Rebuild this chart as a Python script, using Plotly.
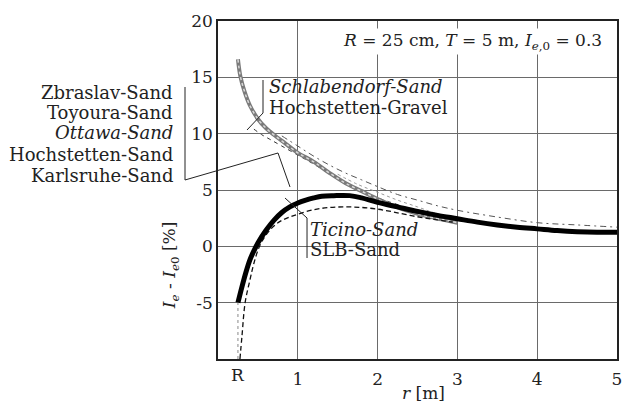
import plotly.graph_objects as go

# ---- data ----
thick_x = [0.25, 0.3, 0.35, 0.4, 0.45, 0.5, 0.6, 0.7, 0.8, 0.9, 1.0, 1.1, 1.2, 1.3, 1.45, 1.65, 1.8, 2.0,
           2.25, 2.5, 2.75, 3.0, 3.25, 3.5, 3.75, 4.0, 4.25, 4.5, 4.75, 5.0]
thick_y = [-5.0, -3.6, -2.3, -1.2, -0.4, 0.3, 1.4, 2.3, 3.0, 3.5, 3.85, 4.1, 4.3, 4.45, 4.5, 4.5, 4.3, 3.9,
           3.5, 3.1, 2.75, 2.45, 2.15, 1.9, 1.7, 1.55, 1.4, 1.3, 1.25, 1.25]

slb_x = [0.275, 0.3, 0.34, 0.4, 0.45, 0.52, 0.6, 0.7, 0.8, 0.9, 1.0, 1.2, 1.4, 1.6, 1.8, 2.0, 2.2, 2.44, 2.7, 2.94]
slb_y = [-10.0, -8.0, -5.0, -3.0, -1.5, 0.0, 1.0, 1.8, 2.3, 2.6, 2.85, 3.25, 3.45, 3.5, 3.45, 3.3, 3.05, 2.7, 2.4, 2.15]

gravel_x = [0.25, 0.28, 0.33, 0.4, 0.5, 0.6, 0.7, 0.85, 1.0, 1.2, 1.4, 1.6, 1.8, 2.0, 2.2, 2.4, 2.6, 2.8, 3.0]
gravel_y = [16.6, 15.1, 13.8, 12.5, 11.3, 10.5, 9.9, 9.1, 8.3, 7.5, 6.5, 5.6, 4.9, 4.2, 3.6, 3.1, 2.7, 2.4, 2.1]

sand_dash_x = [0.45, 0.55, 0.65, 0.8, 1.0, 1.2, 1.5, 1.8, 2.0, 2.3]
sand_dash_y = [10.4, 9.9, 9.5, 8.9, 8.1, 7.3, 6.0, 4.9, 4.3, 3.6]

sand_dot_x = [1.5, 1.75, 2.0, 2.25, 2.5, 2.7, 2.9]
sand_dot_y = [6.4, 5.5, 4.8, 4.1, 3.5, 3.0, 2.6]

dashdot_x = [0.8, 1.0, 1.2, 1.4, 1.6, 1.8, 2.0, 2.25, 2.5, 2.75, 3.0, 3.5, 4.0, 4.5, 5.0]
dashdot_y = [9.8, 8.9, 8.0, 7.2, 6.5, 5.9, 5.3, 4.6, 4.1, 3.6, 3.2, 2.6, 2.1, 1.9, 1.7]

x_ticks = [1, 2, 3, 4, 5]
y_ticks = [-5, 0, 5, 10, 15, 20]
y_ticktext = ["-5", "0", "5", "10", "15", "20"]

left_labels = ["Zbraslav-Sand", "Toyoura-Sand", "<i>Ottawa-Sand</i>", "Hochstetten-Sand", "Karlsruhe-Sand"]

FONT = "DejaVu Serif"
fig = go.Figure()

# upper group
fig.add_trace(go.Scatter(x=sand_dot_x, y=sand_dot_y, mode="lines",
                         line=dict(color="#9a9a9a", width=1, dash="dot", shape="spline")))
fig.add_trace(go.Scatter(x=dashdot_x, y=dashdot_y, mode="lines",
                         line=dict(color="#555", width=1, dash="6px,4px,2px,4px", shape="spline")))
fig.add_trace(go.Scatter(x=sand_dash_x, y=sand_dash_y, mode="lines",
                         line=dict(color="#333", width=1, dash="4px,4px", shape="spline")))
fig.add_trace(go.Scatter(x=gravel_x, y=gravel_y, mode="lines",
                         line=dict(color="#7a7a7a", width=4, shape="spline")))
fig.add_trace(go.Scatter(x=gravel_x, y=gravel_y, mode="lines",
                         line=dict(color="#d8d8d8", width=1.5, dash="dot", shape="spline")))
# lower group
fig.add_trace(go.Scatter(x=slb_x, y=slb_y, mode="lines",
                         line=dict(color="#111", width=1.3, dash="5px,3px", shape="spline")))
fig.add_trace(go.Scatter(x=thick_x, y=thick_y, mode="lines",
                         line=dict(color="#000", width=5, shape="spline")))

anns = []
# left labels
left_y = [0.787, 0.728, 0.669, 0.6065, 0.544]
for t, yy in zip(left_labels, left_y):
    anns.append(dict(text=t, xref="paper", yref="paper", x=-0.107, y=yy, xanchor="right",
                     yanchor="middle", showarrow=False, font=dict(size=18)))
anns += [
    dict(text="<i>Schlabendorf-Sand</i>", xref="paper", yref="paper", x=0.124, y=0.805,
         xanchor="left", yanchor="middle", showarrow=False, font=dict(size=18)),
    dict(text="Hochstetten-Gravel", xref="paper", yref="paper", x=0.124, y=0.743,
         xanchor="left", yanchor="middle", showarrow=False, font=dict(size=18)),
    dict(text="<i>Ticino-Sand</i>", xref="paper", yref="paper", x=0.226, y=0.382,
         xanchor="left", yanchor="middle", showarrow=False, font=dict(size=18)),
    dict(text="SLB-Sand", xref="paper", yref="paper", x=0.226, y=0.325,
         xanchor="left", yanchor="middle", showarrow=False, font=dict(size=18)),
    dict(text="<i>R</i> = 25 cm, <i>T</i> = 5 m, <i>I</i><sub><i>e</i>,0</sub> = 0.3",
         xref="paper", yref="paper", x=0.308, y=0.938, xanchor="left", yanchor="middle",
         showarrow=False, font=dict(size=17), bgcolor="white"),
    dict(text="<i>I</i><sub><i>e</i></sub> - <i>I</i><sub><i>e</i>0</sub> [%]", xref="paper", yref="paper",
         x=-0.12, y=0.278, textangle=-90, xanchor="center", yanchor="middle", showarrow=False,
         font=dict(size=17)),
    dict(text="<i>r</i> [m]", xref="paper", yref="paper", x=0.514, y=-0.10, xanchor="center",
         yanchor="middle", showarrow=False, font=dict(size=17)),
    dict(text="R", xref="x", yref="paper", x=0.25, y=-0.047, xanchor="center", yanchor="middle",
         showarrow=False, font=dict(size=17)),
]

line = dict(color="#222", width=1)
shapes = [
    # left bracket
    dict(type="line", xref="paper", yref="paper", x0=-0.0827, y0=0.8047, x1=-0.0827, y1=0.5296, line=line),
    dict(type="line", xref="paper", yref="paper", x0=-0.0827, y0=0.5296, x1=0.1504, y1=0.6095, line=line),
    dict(type="line", xref="paper", yref="paper", x0=0.1504, y0=0.6095, x1=0.1805, y1=0.5089, line=line),
    # Schlabendorf bracket
    dict(type="line", xref="paper", yref="paper", x0=0.1128, y0=0.8254, x1=0.1128, y1=0.7278, line=line),
    dict(type="line", xref="paper", yref="paper", x0=0.1128, y0=0.7278, x1=0.0727, y1=0.6775, line=line),
    # Ticino bracket
    dict(type="line", xref="paper", yref="paper", x0=0.2231, y0=0.4172, x1=0.2231, y1=0.2988, line=line),
    dict(type="line", xref="paper", yref="paper", x0=0.2231, y0=0.4172, x1=0.1679, y1=0.4763, line=line),
    # dotted marker at R
    dict(type="line", xref="x", yref="y", x0=0.25, y0=-10, x1=0.25, y1=-5,
         line=dict(color="#888", width=1, dash="dot")),
]

fig.update_layout(
    width=624, height=405,
    margin=dict(l=218, r=7, t=21, b=46, autoexpand=False),
    paper_bgcolor="white", plot_bgcolor="white",
    showlegend=False, hovermode=False,
    font=dict(family=FONT, size=17, color="#222"),
    annotations=anns, shapes=shapes,
    xaxis=dict(range=[0, 5], tickvals=x_ticks, showgrid=True, gridcolor="#6a6a6a", gridwidth=1,
               zeroline=False, showline=True, mirror=True, linecolor="#222", linewidth=1.5,
               ticks="outside", ticklen=4, tickcolor="rgba(0,0,0,0)", automargin=False),
    yaxis=dict(range=[-10, 20], tickvals=y_ticks, ticktext=y_ticktext, showgrid=True,
               gridcolor="#6a6a6a", gridwidth=1, zeroline=False, showline=True, mirror=True,
               linecolor="#222", linewidth=1.5, ticks="", automargin=False),
)

fig.write_html("out.html", config={"displayModeBar": False},
               post_script="document.body.style.margin='0';")
